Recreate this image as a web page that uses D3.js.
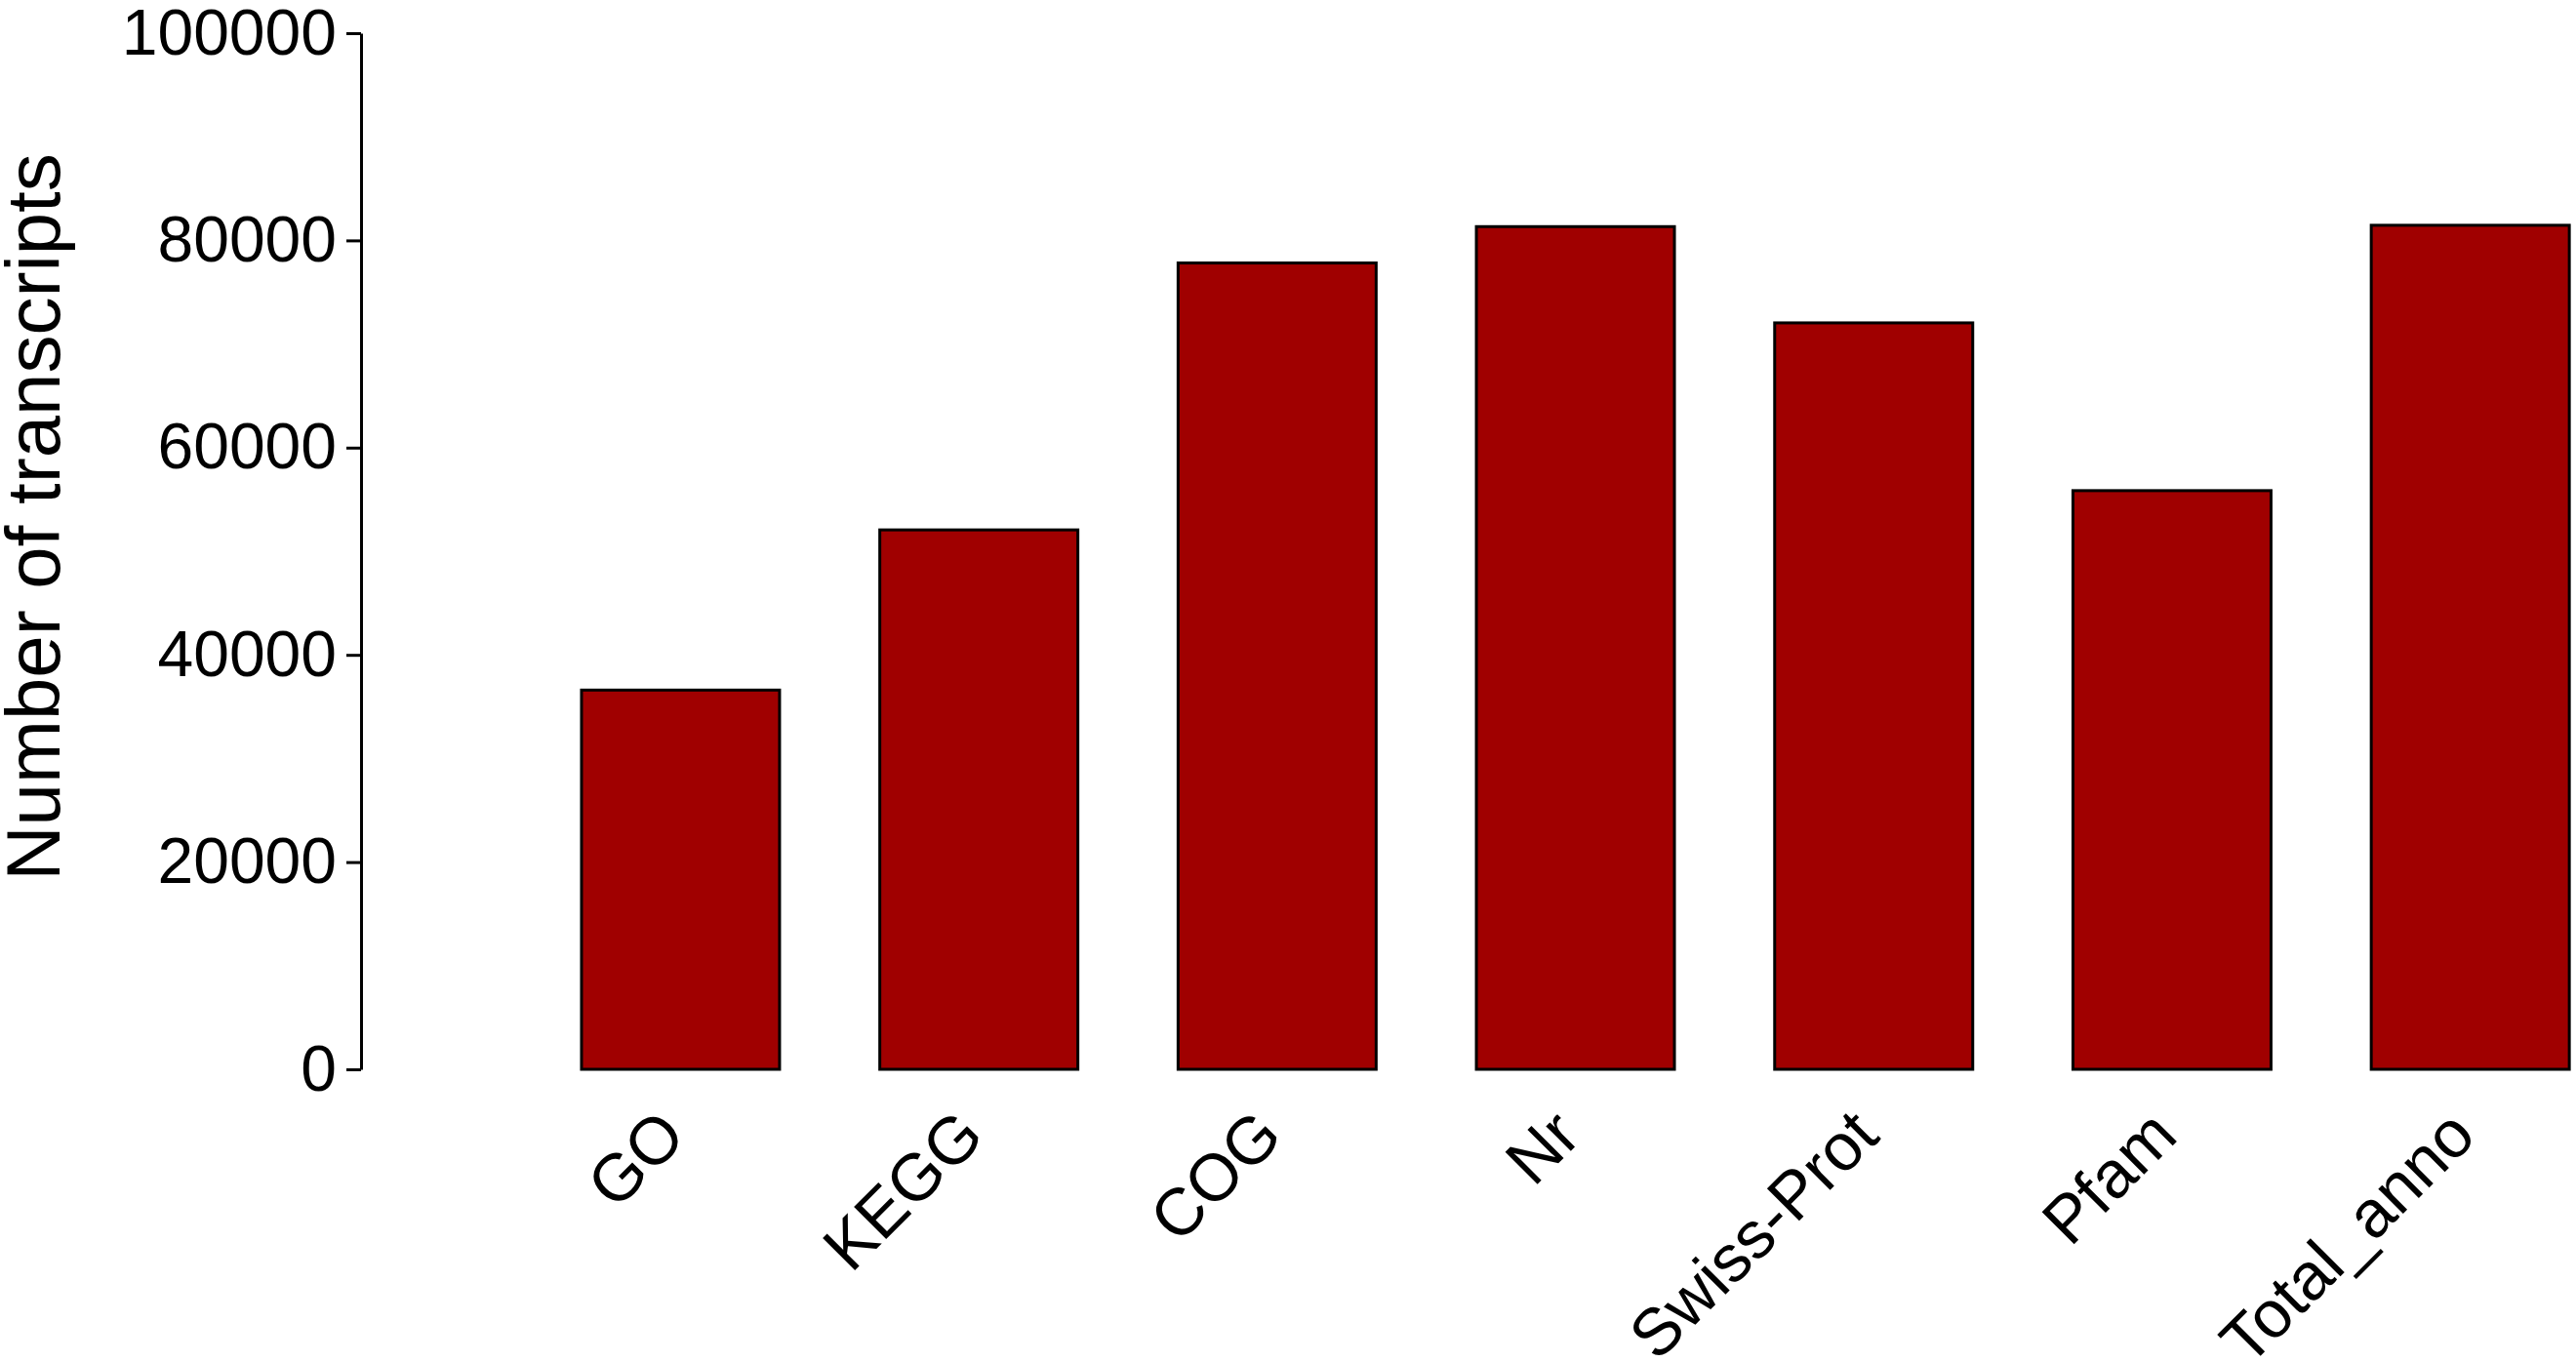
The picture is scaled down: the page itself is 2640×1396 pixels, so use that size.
<!DOCTYPE html>
<html>
<head>
<meta charset="utf-8">
<script src="https://cdn.jsdelivr.net/npm/d3@7"></script>
<style>
  html, body { margin: 0; padding: 0; background: #ffffff; }
  svg { display: block; }
  text { font-family: "Liberation Sans", Arial, sans-serif; fill: #000; }
</style>
</head>
<body>
<script>
const categories = ["GO", "KEGG", "COG", "Nr", "Swiss-Prot", "Pfam", "Total_anno"];
const values = [36600, 52060, 77820, 81330, 72040, 55850, 81460];
const yTicks = [0, 20000, 40000, 60000, 80000, 100000];
const yTitle = "Number of transcripts";

const W = 2640, H = 1396;
const svg = d3.select("body").append("svg").attr("width", W).attr("height", H);

const x = d3.scaleBand().domain(categories).range([544.6, 2684.5])
  .paddingInner(0.336).paddingOuter(0.168);
const y = d3.scaleLinear().domain([0, 100000]).range([1096, 34]);
const axisX = 370;

// bars
svg.append("g").selectAll("rect").data(categories).join("rect")
  .attr("x", d => x(d))
  .attr("y", (d, i) => y(values[i]))
  .attr("width", x.bandwidth())
  .attr("height", (d, i) => y(0) - y(values[i]))
  .attr("fill", "#a00000")
  .attr("stroke", "#000")
  .attr("stroke-width", 3);

// y axis
const yAxis = d3.axisLeft(y).tickValues(yTicks).tickFormat(d3.format("d"))
  .tickSizeInner(15).tickSizeOuter(0).tickPadding(10);
const gy = svg.append("g").attr("transform", `translate(${axisX},0)`).call(yAxis);
gy.select(".domain").attr("stroke", "#000").attr("stroke-width", 3);
gy.selectAll(".tick line").attr("stroke", "#000").attr("stroke-width", 3);
gy.selectAll(".tick text").style("font-size", "66px")
  .style("font-family", "'Liberation Sans', Arial, sans-serif").attr("fill", "#000");

// x labels
svg.append("g").selectAll("text").data(categories).join("text")
  .attr("transform", d => `translate(${x(d) + x.bandwidth() / 2 + 8},1167) rotate(-45)`)
  .attr("text-anchor", "end")
  .style("font-size", "68px")
  .text(d => d);

// y title
svg.append("text")
  .attr("transform", "translate(61,530) rotate(-90)")
  .attr("text-anchor", "middle")
  .style("font-size", "78px")
  .text(yTitle);
</script>
</body>
</html>
